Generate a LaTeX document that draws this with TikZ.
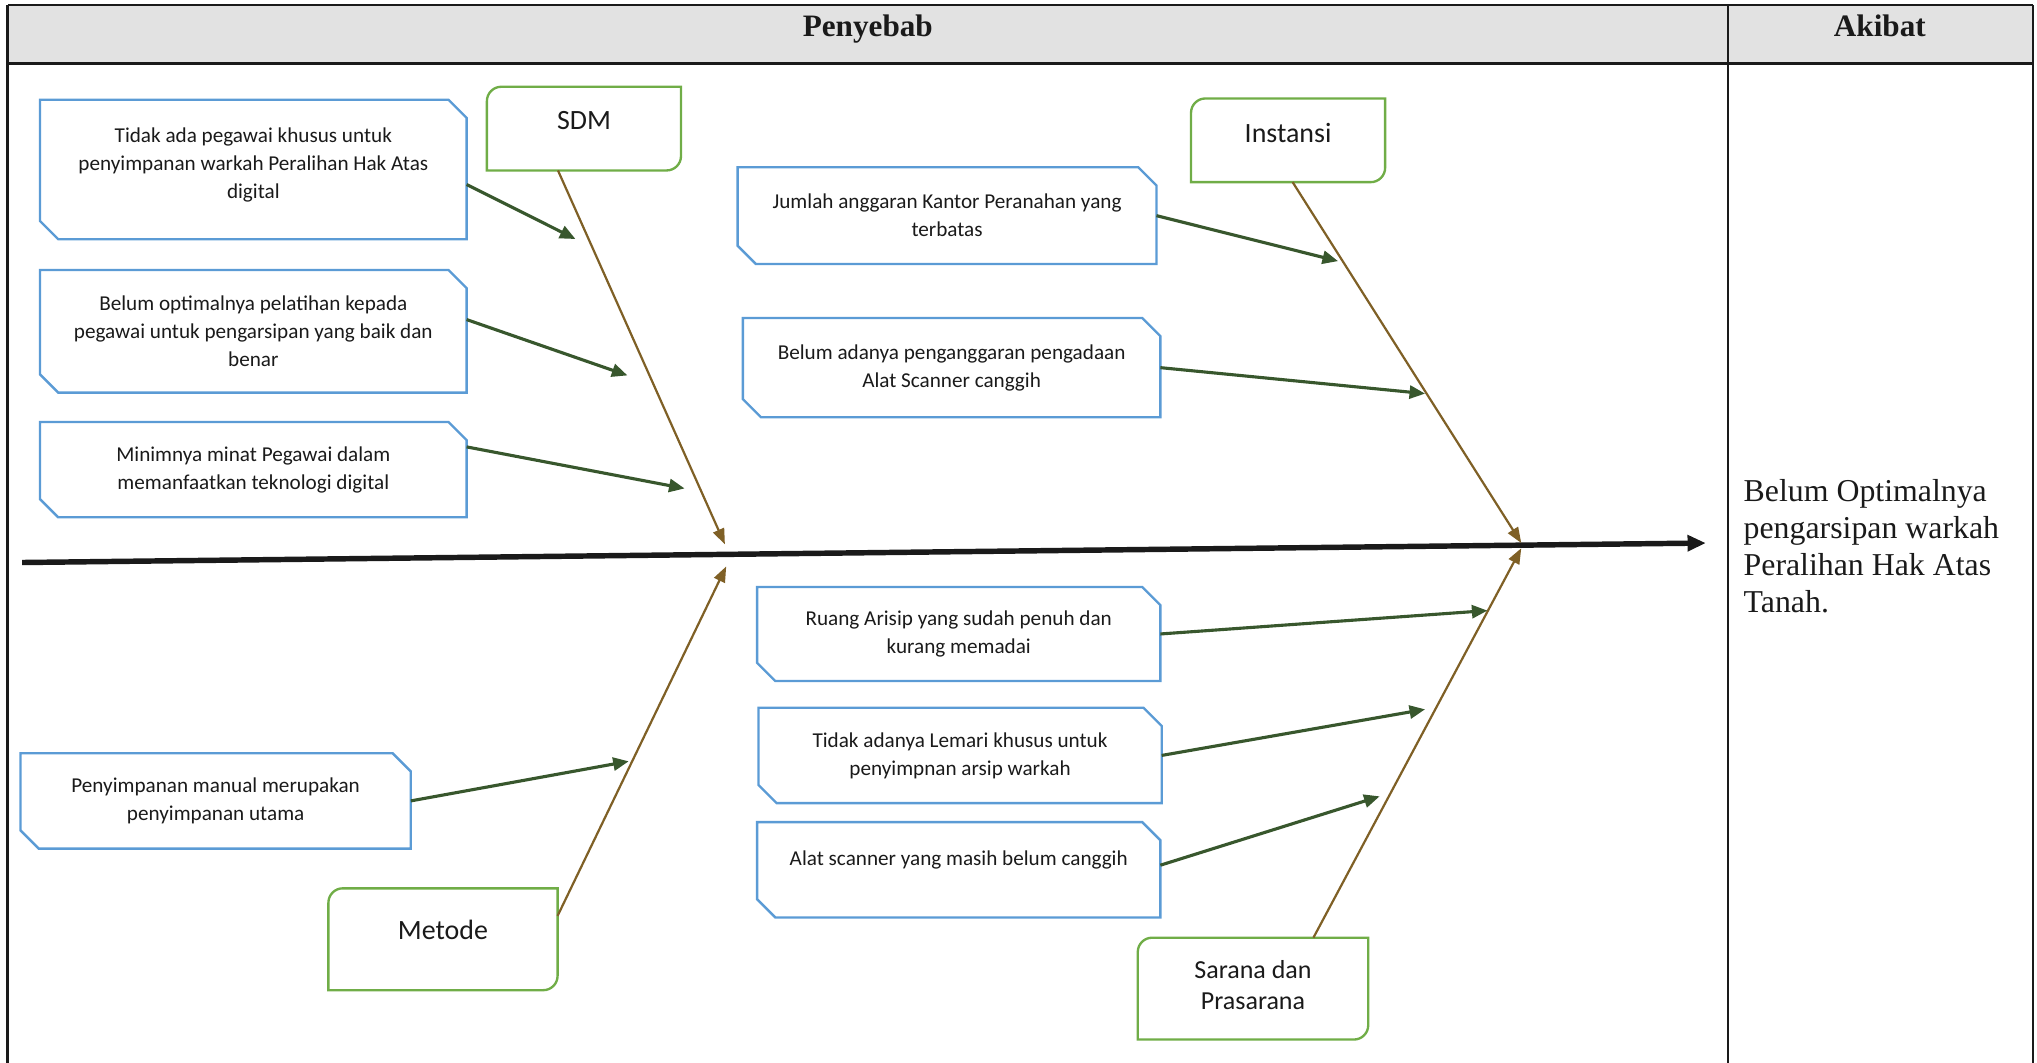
\documentclass[tikz,border=0pt]{standalone}
\usepackage{fontspec}
\setmainfont{Carlito}
\newfontfamily\timesf{Liberation Serif}
\usetikzlibrary{calc,arrows.meta}
\definecolor{bluel}{RGB}{91,155,213}
\definecolor{greenl}{RGB}{112,173,71}
\definecolor{brn}{RGB}{127,96,38}
\definecolor{agreen}{RGB}{56,87,45}
\definecolor{hdr}{RGB}{226,226,226}
\definecolor{txt}{RGB}{26,26,26}
\newcommand\snipoutline[2][14]{%
  \draw[blueline] (#2.north west) -- ($(#2.north east)+(-#1,0)$) -- ($(#2.north east)+(0,#1)$)
    -- (#2.south east) -- ($(#2.south west)+(#1,0)$) -- ($(#2.south west)+(0,-#1)$) -- cycle;}
\newcommand\roundoutline[2][11]{%
  \draw[greenline] (#2.south west) -- ($(#2.north west)+(0,#1)$) .. controls ($(#2.north west)+(0,0.45*#1)$) and ($(#2.north west)+(0.45*#1,0)$) .. ($(#2.north west)+(#1,0)$)
    -- (#2.north east) -- ($(#2.south east)+(0,-#1)$) .. controls ($(#2.south east)+(0,-0.45*#1)$) and ($(#2.south east)+(-0.45*#1,0)$) .. ($(#2.south east)+(-#1,0)$) -- cycle;}
\begin{document}
\begin{tikzpicture}[x=1pt,y=-1pt,
  cause/.style={draw=none, inner sep=0pt, align=center, text=txt, font=\fontsize{16.3}{21.5}\selectfont},
  cat/.style={draw=none, inner sep=0pt, align=center, text=txt, font=\fontsize{21.5}{24}\selectfont},
  blueline/.style={draw=bluel, line width=1.8pt, line join=miter},
  greenline/.style={draw=greenl, line width=1.8pt},
  tline/.style={draw=txt, line width=2pt},
  garrow/.style={draw=agreen, line width=2.4pt, -{Triangle[length=12pt,width=10pt]}},
  bone/.style={draw=brn, line width=1.7pt, -{Triangle[length=12pt,width=9pt]}},
  spine/.style={draw=txt, line width=4.2pt, -{Triangle[length=14pt,width=12pt]}},
  hdrtext/.style={inner sep=0pt, text=txt, font=\timesf\bfseries\fontsize{24}{28}\selectfont}
]
\useasboundingbox (0,0) rectangle (1568,818);
% table
\fill[hdr] (6,4) rectangle (1565,49);
\draw[tline] (6,4) -- (1565,4);
\draw[tline, line width=2.4pt] (6,49) -- (1565,49);
\draw[tline] (6,4) -- (6,822);
\draw[tline] (1330,4) -- (1330,822);
\draw[tline] (1565,4) -- (1565,822);
\node[hdrtext, anchor=base] (peny) at (668,28) {Penyebab};
\node[hdrtext, anchor=base] (akib) at (1447,28) {Akibat};
\node[anchor=north west, inner sep=0pt, align=left, text=txt, font=\timesf\fontsize{24.5}{28.3}\selectfont] (effect) at (1342,369)
  {Belum Optimalnya\\pengarsipan warkah\\Peralihan Hak Atas\\Tanah.};

% category boxes
\node[cat, minimum width=149, minimum height=64, text depth=13pt] (sdm) at (449.5,99) {SDM};
\node[cat, minimum width=149, minimum height=64, text depth=11pt] (inst) at (991.5,108) {Instansi};
\node[cat, minimum width=176, minimum height=78, text depth=14pt] (met) at (341,723) {Metode};
\node[cat, minimum width=177, minimum height=78, text depth=6pt, font=\fontsize{20}{24}\selectfont] (sar) at (964.5,761) {Sarana dan\\Prasarana};
\roundoutline{sdm}\roundoutline{inst}\roundoutline{met}\roundoutline{sar}

% cause boxes
\node[cause, minimum width=328, minimum height=107, text depth=9.5pt] (b1) at (195,130.5) {Tidak ada pegawai khusus untuk\\penyimpanan warkah Peralihan Hak Atas\\digital};
\node[cause, minimum width=328, minimum height=94] (b2) at (195,255) {Belum optimalnya pelatihan kepada\\pegawai untuk pengarsipan yang baik dan\\benar};
\node[cause, minimum width=328, minimum height=73] (b3) at (195,361.5) {Minimnya minat Pegawai dalam\\memanfaatkan teknologi digital};
\node[cause, minimum width=300, minimum height=73] (b4) at (166,616.5) {Penyimpanan manual merupakan\\penyimpanan utama};
\node[cause, minimum width=322, minimum height=74] (b5) at (729,166) {Jumlah anggaran Kantor Peranahan yang\\terbatas};
\node[cause, minimum width=321, minimum height=76] (b6) at (732.5,283) {Belum adanya penganggaran pengadaan\\Alat Scanner canggih};
\node[cause, minimum width=310, minimum height=72] (b7) at (738,488) {Ruang Arisip yang sudah penuh dan\\kurang memadai};
\node[cause, minimum width=310, minimum height=73] (b8) at (739,581.5) {Tidak adanya Lemari khusus untuk\\penyimpnan arsip warkah};
\node[cause, minimum width=310, minimum height=73, text depth=18pt] (b9) at (738,669.5) {Alat scanner yang masih belum canggih};
\foreach \b in {b1,b2,b3,b4,b5,b6,b7,b8,b9}{\snipoutline{\b}}

% spine
\coordinate (spl) at (17,433);
\coordinate (spr) at (1313,418);
\draw[spine] (spl) -- (spr);

% bones
\coordinate (tsdm) at (558,419);
\coordinate (tmet) at (559,436);
\coordinate (tinst) at (1171,418);
\coordinate (tsar) at (1171,422);
\draw[bone] ($(sdm.south)+(-20,0)$) -- (tsdm);
\draw[bone] ($(met.east)+(0,-18)$) -- (tmet);
\draw[bone] ($(inst.south)+(3.5,0)$) -- (tinst);
\draw[bone] ($(sar.north)+(46.5,0)$) -- (tsar);

% cause arrows
\coordinate (t1) at (443,184);
\coordinate (t2) at (483,289);
\coordinate (t3) at (527,376);
\coordinate (t4) at (484,586);
\coordinate (t5) at (1030,201);
\coordinate (t6) at (1097,303);
\coordinate (t7) at (1145,470);
\coordinate (t8) at (1097,546);
\coordinate (t9) at (1062,613);
\draw[garrow] ($(b1.east)+(0,11.5)$) -- (t1);
\draw[garrow] ($(b2.east)+(0,-9)$) -- (t2);
\draw[garrow] ($(b3.east)+(0,-17.5)$) -- (t3);
\draw[garrow] (b4.east) -- (t4);
\draw[garrow] (b5.east) -- (t5);
\draw[garrow] (b6.east) -- (t6);
\draw[garrow] (b7.east) -- (t7);
\draw[garrow] (b8.east) -- (t8);
\draw[garrow] ($(b9.east)+(0,-3.5)$) -- (t9);
\end{tikzpicture}
\end{document}
